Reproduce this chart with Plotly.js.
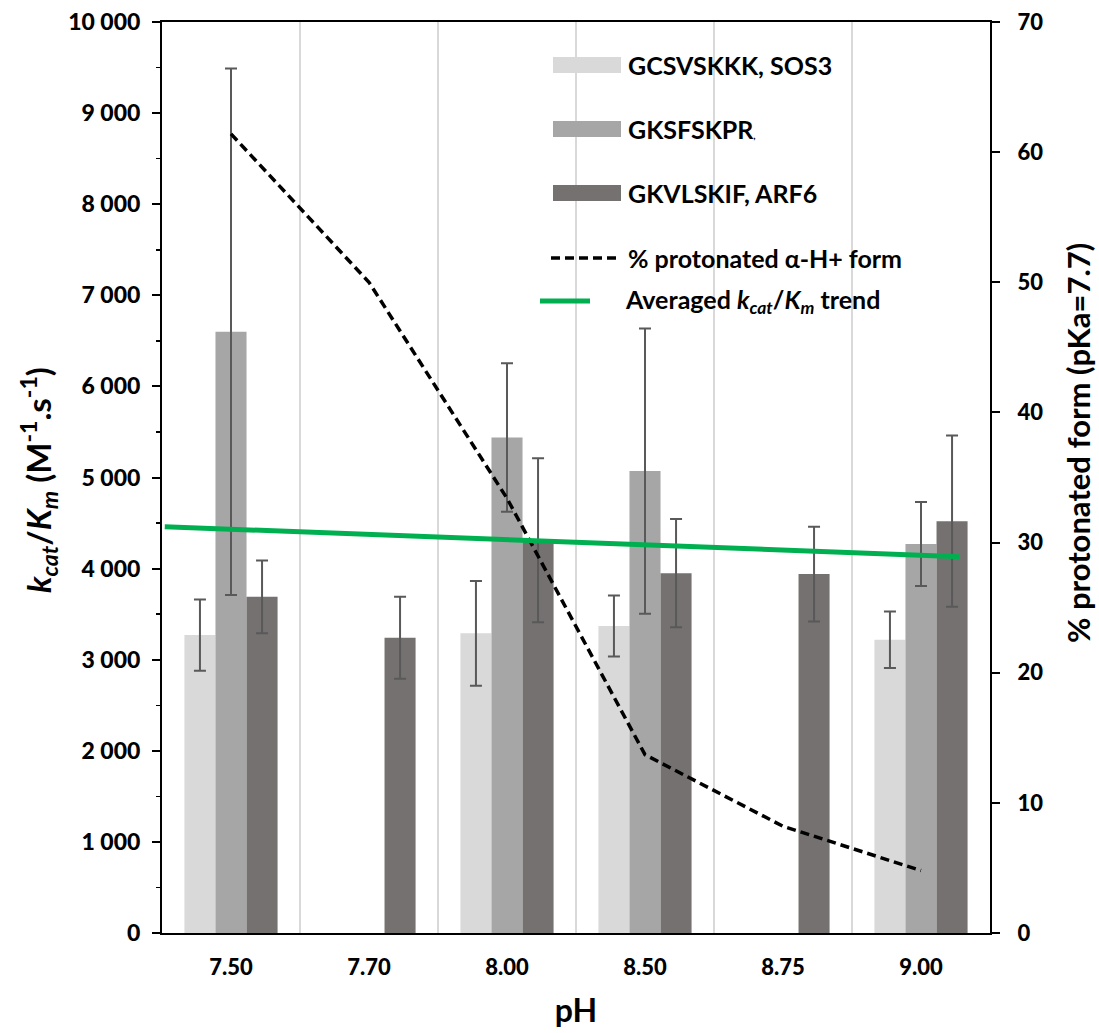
<!DOCTYPE html>
<html><head><meta charset="utf-8">
<script src="https://cdn.plot.ly/plotly-3.0.1.min.js"></script>
<style>body{margin:0;background:#fff}#chart{width:1099px;height:1033px}</style>
</head><body><div id="chart"></div>
<script>
// ---- data ----
var categories = ["7.50", "7.70", "8.00", "8.50", "8.75", "9.00"];
var sos3 = [3270, null, 3290, 3370, null, 3220];
var sos3Err = [390, null, 575, 335, null, 310];
var gksf = [6600, null, 5440, 5070, null, 4270];
var gksfErr = [2890, null, 815, 1565, null, 460];
var arf6 = [3690, 3240, 4310, 3950, 3940, 4520];
var arf6Err = [400, 450, 900, 595, 520, 940];
var protonated = [61.4, 50.0, 33.4, 13.7, 8.2, 4.8];
var trendX = [-0.48, 5.28];
var trendY = [4460, 4130];
var legendNames = ["GCSVSKKK, SOS3", "GKSFSKPR<span style='font-size:10px'>,</span>", "GKVLSKIF, ARF6",
                   "% protonated α-H+ form", "Averaged <i>k<sub>cat</sub></i>/<i>K<sub>m</sub></i> trend"];
var yTitle = "<b><i>k<sub>cat</sub></i>/<i>K<sub>m</sub></i> (M<sup>-1</sup>.s<sup>-1</sup>)</b>";
var y2Title = "<b>% protonated form (pKa=7.7)</b>";

var FONT = "Lato, 'Open Sans', sans-serif";
var L = 162, R = 990, T = 22, B = 933;
function px(x){ return (x - L) / (R - L); }
function py(y){ return (B - y) / (B - T); }

var errStyle = {type: 'data', visible: true, color: '#595959', thickness: 2, width: 6};
function bar(vals, errs, color, name){
  return {type: 'bar', x: categories, y: vals, name: name, marker: {color: color},
    error_y: Object.assign({array: errs}, errStyle), showlegend: false};
}
var traces = [
  bar(sos3, sos3Err, '#d9d9d9', 'GCSVSKKK, SOS3'),
  bar(gksf, gksfErr, '#a6a6a6', 'GKSFSKPR'),
  bar(arf6, arf6Err, '#767171', 'GKVLSKIF, ARF6'),
  {type: 'scatter', mode: 'lines', x: trendX, y: trendY, xaxis: 'x2', yaxis: 'y',
   line: {color: '#00b050', width: 5}, showlegend: false, name: 'trend'},
  {type: 'scatter', mode: 'lines', x: categories, y: protonated, xaxis: 'x', yaxis: 'y2',
   line: {color: '#000', width: 3.5, dash: '9px,5px'}, showlegend: false, name: '% protonated'}
];

var swatchColors = ['#d9d9d9', '#a6a6a6', '#767171'];
var itemY = [65, 129, 193, 258, 301];
var shapes = [];
var annotations = [];
for (var i = 0; i < 3; i++){
  shapes.push({type: 'rect', xref: 'paper', yref: 'paper', x0: px(553), x1: px(621),
    y0: py(itemY[i] + 8), y1: py(itemY[i] - 8), fillcolor: swatchColors[i], line: {width: 0}});
}
shapes.push({type: 'line', xref: 'paper', yref: 'paper', x0: px(551), x1: px(621), y0: py(itemY[3]), y1: py(itemY[3]),
  line: {color: '#000', width: 3.5, dash: '9px,5px'}});
shapes.push({type: 'line', xref: 'paper', yref: 'paper', x0: px(540), x1: px(590), y0: py(itemY[4]), y1: py(itemY[4]),
  line: {color: '#00b050', width: 5}});
for (var j = 0; j < 5; j++){
  annotations.push({xref: 'paper', yref: 'paper', x: px(j === 4 ? 623 : 626), y: py(itemY[j]),
    xanchor: 'left', yanchor: 'middle', showarrow: false, text: '<b>' + legendNames[j] + '</b>',
    font: {family: FONT, size: 25, color: '#000'}});
}
// axis titles
annotations.push({xref: 'paper', yref: 'paper', x: px(38), y: py(480), xanchor: 'center', yanchor: 'middle',
  showarrow: false, textangle: -90, text: yTitle, font: {family: FONT, size: 33, color: '#000'}});
annotations.push({xref: 'paper', yref: 'paper', x: px(1078), y: py(443), xanchor: 'center', yanchor: 'middle',
  showarrow: false, textangle: -90, text: y2Title, font: {family: FONT, size: 31, color: '#000'}});

var layout = {
  width: 1099, height: 1033,
  margin: {l: L, r: 1099 - R, t: T, b: 1033 - B},
  paper_bgcolor: '#fff', plot_bgcolor: '#fff',
  separators: '. ',
  barmode: 'group', bargap: 0.325, bargroupgap: 0,
  font: {family: FONT, color: '#000'},
  showlegend: false,
  xaxis: {type: 'category', tickson: 'boundaries', showgrid: true, gridcolor: '#d9d9d9', gridwidth: 1.5,
    ticks: '', showline: true, linecolor: '#000', linewidth: 2, mirror: true, zeroline: false,
    ticklabelstandoff: 14,
    tickfont: {family: FONT, size: 22, weight: 900},
    title: {text: '<b>pH</b>', font: {family: FONT, size: 32}, standoff: 20}},
  xaxis2: {overlaying: 'x', type: 'linear', range: [-0.5, 5.5], visible: false},
  yaxis: {range: [0, 10000], dtick: 1000, tickformat: ',d', ticks: 'outside', ticklen: 8, tickwidth: 2,
    tickcolor: '#000', showgrid: false, zeroline: false, showline: true, linecolor: '#000', linewidth: 2,
    minor: {dtick: 500, ticks: 'outside', ticklen: 4, tickwidth: 1.5, tickcolor: '#000', showgrid: false},
    ticklabelstandoff: 7,
    tickfont: {family: FONT, size: 23, weight: 900}},
  yaxis2: {overlaying: 'y', side: 'right', range: [0, 70], dtick: 10, ticks: 'outside', ticklen: 8, tickwidth: 2,
    tickcolor: '#000', showgrid: false, zeroline: false, showline: true, linecolor: '#000', linewidth: 2,
    ticklabelstandoff: 13,
    tickfont: {family: FONT, size: 22, weight: 900}},
  shapes: shapes,
  annotations: annotations
};
Plotly.newPlot('chart', traces, layout, {displayModeBar: false, staticPlot: true});
</script></body></html>
